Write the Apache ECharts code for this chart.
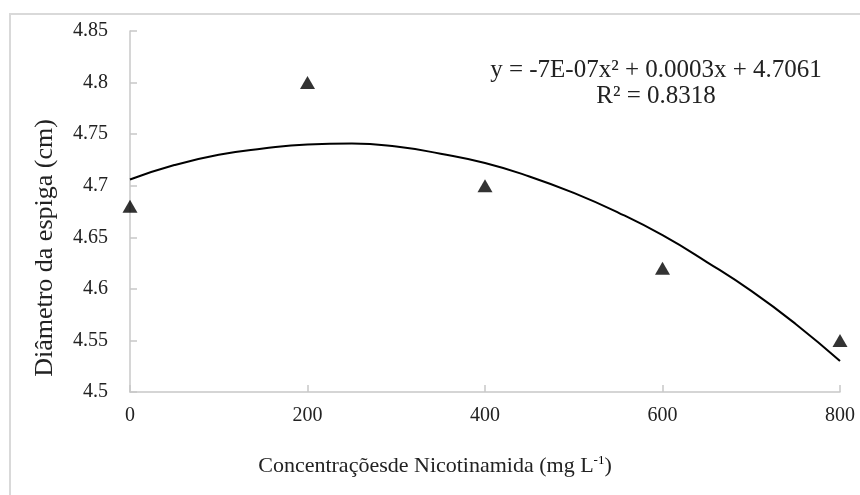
<!DOCTYPE html>
<html>
<head>
<meta charset="utf-8">
<script src="https://cdn.jsdelivr.net/npm/echarts@6/dist/echarts.min.js"></script>
<style>
html,body{margin:0;padding:0;background:#fff;}
#c{width:860px;height:495px;}
</style>
</head>
<body>
<div id="c"></div>
<script>
// Observed data (triangles)
const concentrations = [0, 200, 400, 600, 800];
const diameters = [4.68, 4.80, 4.70, 4.62, 4.55];
// Trend curve, every 50 mg L-1
const curveX = [0, 50, 100, 150, 200, 250, 300, 350, 400, 450, 500, 550, 600, 650, 700, 750, 800];
const curveY = [4.706, 4.720, 4.730, 4.736, 4.740, 4.741, 4.738, 4.731, 4.722, 4.709, 4.693, 4.674, 4.652, 4.626, 4.598, 4.566, 4.530];
const xTicks = [0, 200, 400, 600, 800];
const yTicks = [4.5, 4.55, 4.6, 4.65, 4.7, 4.75, 4.8, 4.85];
const equationText = 'y = -7E-07x² + 0.0003x + 4.7061';
const r2Text = 'R² = 0.8318';
const xTitle = 'Concentraçõesde Nicotinamida (mg L';
const yTitle = 'Diâmetro da espiga (cm)';

const font = '"Liberation Serif", "Times New Roman", serif';
const chart = echarts.init(document.getElementById('c'), null, {renderer: 'canvas'});
chart.setOption({
  animation: false,
  backgroundColor: '#fff',
  grid: {left: 130, right: 20, top: 31, bottom: 103, containLabel: false},
  xAxis: {
    type: 'value', min: xTicks[0], max: xTicks[xTicks.length - 1], interval: 200,
    axisLine: {lineStyle: {color: '#c8c8c8', width: 1.5}},
    axisTick: {inside: true, length: 7, lineStyle: {color: '#c8c8c8', width: 1.5}},
    splitLine: {show: false},
    axisLabel: {fontFamily: font, fontSize: 20, color: '#222', margin: 14}
  },
  yAxis: {
    type: 'value', min: yTicks[0], max: yTicks[yTicks.length - 1], interval: 0.05,
    axisLine: {show: true, lineStyle: {color: '#c8c8c8', width: 1.5}},
    axisTick: {show: true, inside: true, length: 7, lineStyle: {color: '#c8c8c8', width: 1.5}},
    splitLine: {show: false},
    axisLabel: {fontFamily: font, fontSize: 20, color: '#222', margin: 22,
      formatter: v => String(+v.toFixed(2))}
  },
  series: [
    {
      type: 'line', data: curveX.map((x, i) => [x, curveY[i]]),
      smooth: true, showSymbol: false, symbol: 'none',
      lineStyle: {color: '#000', width: 2}, z: 2
    },
    {
      type: 'scatter', data: concentrations.map((x, i) => [x, diameters[i]]),
      symbol: 'triangle', symbolSize: [15, 13],
      itemStyle: {color: '#000'}, z: 3
    }
  ],
  graphic: [
    {type: 'rect', shape: {x: 10, y: 14, width: 900, height: 540},
     style: {fill: 'none', stroke: '#d9d9d9', lineWidth: 2}, silent: true, z: -1},
    {type: 'text', x: 656, y: 70,
     style: {text: equationText, font: '25px ' + font, fill: '#222', align: 'center', verticalAlign: 'middle'}},
    {type: 'text', x: 656, y: 96,
     style: {text: r2Text, font: '25px ' + font, fill: '#222', align: 'center', verticalAlign: 'middle'}},
    {type: 'text', x: 435, y: 466,
     style: {
       text: '{a|' + xTitle + '}{s|-1}{a|)}',
       align: 'center', verticalAlign: 'middle',
       rich: {
         a: {fontFamily: font, fontSize: 22, fill: '#222', color: '#222'},
         s: {fontFamily: font, fontSize: 13, color: '#222', verticalAlign: 'top', padding: [0, 0, 10, 0]}
       }
     }},
    {type: 'text', x: 45, y: 248, rotation: Math.PI / 2,
     style: {text: yTitle, font: '26px ' + font, fill: '#222', align: 'center', verticalAlign: 'middle'}}
  ]
});
</script>
</body>
</html>
